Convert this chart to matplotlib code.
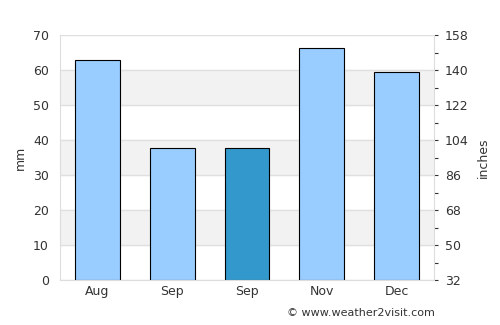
import numpy as np
import matplotlib.pyplot as plt

months = ["Aug", "Sep", "Sep", "Nov", "Dec"]
rain_mm = [63.0, 37.7, 37.7, 66.2, 59.5]
colors = ["#99ccff", "#99ccff", "#3399cc", "#99ccff", "#99ccff"]
left_ticks = [0, 10, 20, 30, 40, 50, 60, 70]
right_labels = [32, 50, 68, 86, 104, 122, 140, 158]

fig = plt.figure(figsize=(5, 3.25), dpi=100)
ax = fig.add_axes([0.12, 0.138, 0.748, 0.754])

# alternating background bands
for lo in range(10, 70, 20):
    ax.axhspan(lo, lo + 10, color="#f2f2f2", zorder=0)
for t in left_ticks:
    ax.axhline(t, color="#e0e0e0", lw=1, zorder=0.5)

x = np.arange(len(months))
ax.bar(x, rain_mm, width=0.6, color=colors, edgecolor="black", linewidth=0.8, zorder=2)

ax.set_xlim(-0.5, len(months) - 0.5)
ax.set_ylim(0, 70)
ax.set_yticks(left_ticks)
ax.set_xticks(x)
ax.set_xticklabels(months)
ax.set_ylabel("mm", color="#333333", fontsize=9)
ax.tick_params(colors="#333333", labelsize=9, length=0)
ax.tick_params(axis="y", pad=8)
for s in ["top", "right"]:
    ax.spines[s].set_visible(False)
for s in ["left", "bottom"]:
    ax.spines[s].set_color("#dddddd")

ax2 = ax.twinx()
ax2.set_ylim(0, 70)
ax2.set_yticks(left_ticks)
ax2.set_yticklabels([str(v) for v in right_labels])
ax2.set_yticks(np.arange(5, 70, 10), minor=True)
ax2.tick_params(axis="y", colors="#333333", labelsize=9, length=3, width=0.8, direction="out", pad=5)
ax2.tick_params(axis="y", which="minor", length=3, width=0.8, colors="#333333")
ax2.set_ylabel("inches", color="#333333", fontsize=9, labelpad=6)
for s in ["top", "left", "bottom"]:
    ax2.spines[s].set_visible(False)
ax2.spines["right"].set_color("#dddddd")

fig.text(0.87, 0.02, "© www.weather2visit.com", ha="right", va="bottom", fontsize=8, color="#333333")

fig.savefig("out.png", dpi=100)
